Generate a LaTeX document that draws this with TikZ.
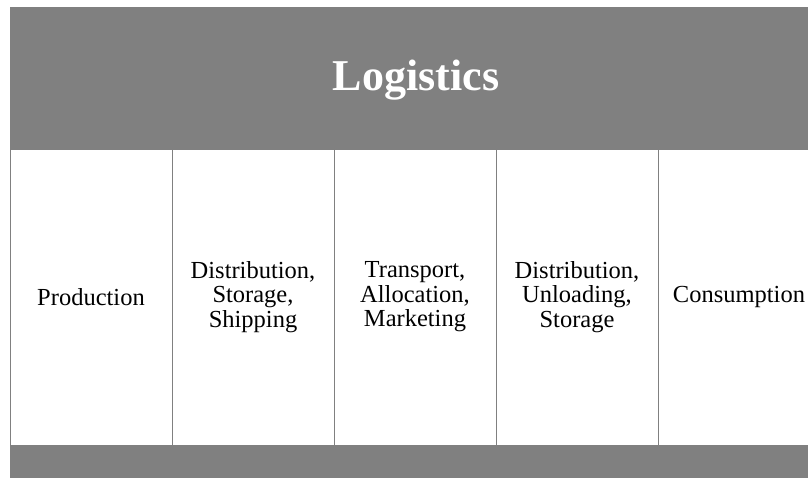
\documentclass[tikz,border=0pt]{standalone}
\usepackage{fontspec}
\setmainfont{Liberation Serif}
\usepackage{tikz}

\begin{document}
\begin{tikzpicture}[x=1pt, y=-1pt,
    stage/.style={align=center, font=\fontsize{24.5}{24.5}\selectfont, inner sep=0pt}]
        \useasboundingbox (0, 0) rectangle (808, 477);
        \clip (0, 0) rectangle (808, 477);

        % header bar
        \fill [gray] (10, 7) rectangle (830, 150);
        \node (title) [text=white, font=\fontsize{44}{50}\selectfont\bfseries]
          at (416, 80) {Logistics};

        % bottom bar
        \fill [gray] (10, 445) rectangle (830, 490);

        % column borders
        \draw [gray, line width=1pt] (10.5, 150) -- (10.5, 445);
        \draw [gray, line width=0.8pt] (172, 150) -- (172, 445);
        \draw [gray, line width=0.8pt] (334, 150) -- (334, 445);
        \draw [gray, line width=0.8pt] (496, 150) -- (496, 445);
        \draw [gray, line width=0.8pt] (658, 150) -- (658, 445);

        % stages
        \node (production) [stage] at (91, 297) {Production};
        \node (shipping) [stage] at (253, 297) {Distribution,\\Storage,\\Shipping};
        \node (marketing) [stage] at (415, 297) {Transport,\\Allocation,\\Marketing};
        \node (storage) [stage] at (577, 297) {Distribution,\\Unloading,\\Storage};
        \node (consumption) [stage] at (739, 297) {Consumption};

      \end{tikzpicture}
\end{document}
